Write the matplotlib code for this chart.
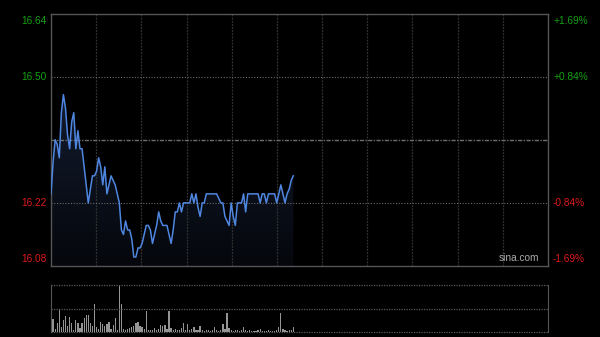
import numpy as np
import matplotlib
matplotlib.use("Agg")
import matplotlib.pyplot as plt
import matplotlib.transforms as mtransforms

# intraday prices, one per minute from 9:30
price = [16.24, 16.31, 16.36, 16.35, 16.32, 16.42, 16.46, 16.43, 16.37, 16.34,
         16.40, 16.42, 16.34, 16.38, 16.34, 16.34, 16.30, 16.26, 16.22, 16.25,
         16.28, 16.28, 16.29, 16.32, 16.30, 16.26, 16.30, 16.24, 16.26, 16.28,
         16.27, 16.26, 16.24, 16.22, 16.16, 16.15, 16.18, 16.16, 16.16, 16.14,
         16.10, 16.10, 16.12, 16.12, 16.13, 16.15, 16.17, 16.17, 16.16, 16.13,
         16.15, 16.17, 16.20, 16.18, 16.17, 16.17, 16.17, 16.15, 16.13, 16.16,
         16.20, 16.20, 16.22, 16.20, 16.22, 16.22, 16.22, 16.22, 16.24, 16.22,
         16.24, 16.21, 16.19, 16.22, 16.22, 16.24, 16.24, 16.24, 16.24, 16.24,
         16.24, 16.23, 16.22, 16.22, 16.19, 16.18, 16.17, 16.22, 16.19, 16.17,
         16.22, 16.22, 16.22, 16.24, 16.20, 16.24, 16.24, 16.24, 16.24, 16.24,
         16.24, 16.22, 16.24, 16.24, 16.22, 16.24, 16.24, 16.24, 16.24, 16.22,
         16.24, 16.26, 16.24, 16.22, 16.24, 16.25, 16.27, 16.28]

volume = [75, 27, 6, 20, 50, 10, 25, 33, 12, 32,
          19, 5, 25, 20, 9, 20, 30, 37, 37, 19,
          12, 60, 10, 6, 22, 17, 12, 18, 22, 6,
          15, 30, 5, 100, 60, 6, 5, 6, 8, 10,
          12, 19, 22, 12, 10, 6, 44, 5, 5, 4,
          8, 5, 6, 15, 12, 15, 6, 45, 8, 5,
          6, 4, 5, 8, 20, 5, 17, 4, 6, 10,
          4, 5, 13, 4, 3, 5, 4, 3, 4, 10,
          4, 3, 5, 17, 6, 41, 8, 5, 3, 4,
          5, 3, 4, 11, 5, 3, 4, 3, 2, 3,
          4, 6, 3, 2, 3, 4, 3, 2, 3, 5,
          11, 41, 6, 4, 3, 5, 4, 11]

prev_close = 16.36
left_ticks = ["16.64", "16.50", "16.22", "16.08"]
right_ticks = ["+1.69%", "+0.84%", "-0.84%", "-1.69%"]
tick_vals = [16.64, 16.50, 16.22, 16.08]

green = "#14a014"
red = "#dd1a1a"
font = "Liberation Sans"

fig = plt.figure(figsize=(6, 3.37), dpi=100, facecolor="black")
ax = fig.add_axes([51 / 600, 1 - 266 / 337, 497 / 600, 252.5 / 337], facecolor="black")
axv = fig.add_axes([51 / 600, 1 - 332 / 337, 497 / 600, 47 / 337], facecolor="black")

x = np.arange(len(price))
# gradient fill under the line
poly = ax.fill_between(x, price, 16.08, color="none", lw=0)
grad = np.linspace(1, 0, 100).reshape(-1, 1)
img = ax.imshow(grad, extent=[0, len(price) - 1, 16.08, max(price)], aspect="auto",
                cmap=matplotlib.colors.LinearSegmentedColormap.from_list(
                    "g", ["#05070c", "#121b2e"]), origin="upper", zorder=1)
img.set_clip_path(poly.get_paths()[0], transform=ax.transData)
ax.plot(x, price, color="#4f86e0", lw=1.1, zorder=3)

ax.set_xlim(0, 240)
ax.set_ylim(16.08, 16.64)
ax.set_xticks([])
ax.set_yticks([])
for s in ax.spines.values():
    s.set_color("#555555")
    s.set_linewidth(1)

for gx in np.linspace(0, 240, 12)[1:-1]:
    ax.axvline(gx, color="#333333", lw=0.9, ls=(0, (1.5, 1)), zorder=2)
for gy in [16.50, 16.22]:
    ax.axhline(gy, color="#6a6a6a", lw=0.8, ls=(0, (1, 1.5)), zorder=2)
ax.axhline(prev_close, color="#6e6e6e", lw=1, ls=(0, (3, 1, 1, 1)), zorder=2)

trans = mtransforms.blended_transform_factory(fig.transFigure, ax.transData)
for i, (val, lt, rt) in enumerate(zip(tick_vals, left_ticks, right_ticks)):
    c = green if val > prev_close else red
    va = "center"
    y = val
    if i == 0:
        va = "top"
        y = val - 0.005
    elif i == len(tick_vals) - 1:
        va = "bottom"
        y = val + 0.005
    fig.text(47 / 600, y, lt, transform=trans, ha="right", va=va,
             color=c, fontsize=7.3, family=font)
    fig.text(553 / 600, y, rt, transform=trans, ha="left", va=va,
             color=c, fontsize=7.3, family=font)

ax.text(0.982, 0.01, "sina.com", transform=ax.transAxes,
        ha="right", va="bottom", color="#aaaaaa", fontsize=7.3, family=font)

# volume panel
axv.bar(x, volume, width=0.6, color="#959595", lw=0)
axv.set_xlim(0, 240)
axv.set_ylim(0, max(volume))
axv.set_xticks([])
axv.set_yticks([])
for k in ["top", "bottom"]:
    axv.spines[k].set_visible(False)
for k in ["left", "right"]:
    axv.spines[k].set_color("#555555")
for gy in [0, 0.5, 1.0]:
    axv.axhline(max(volume) * gy, color="#5a5a5a", lw=0.9, ls=(0, (1, 1)), clip_on=False)

fig.savefig("out.png", dpi=100, facecolor="black")
